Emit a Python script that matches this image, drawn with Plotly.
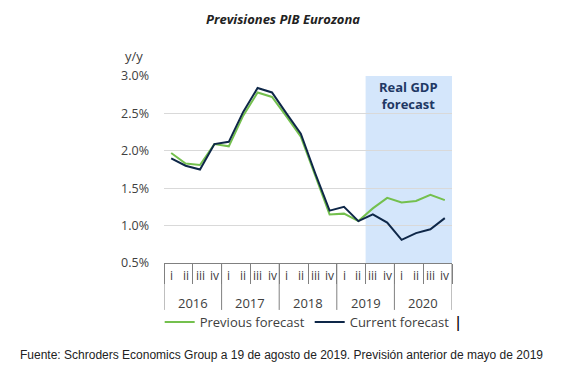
import plotly.graph_objects as go

years = ["2016", "2017", "2018", "2019", "2020"]
quarters = ["i", "ii", "iii", "iv"]
previous = [1.97, 1.83, 1.81, 2.09, 2.06, 2.47, 2.78, 2.72, 2.46, 2.19, 1.67, 1.15,
            1.16, 1.06, 1.23, 1.37, 1.31, 1.33, 1.41, 1.34]
current = [1.90, 1.80, 1.75, 2.09, 2.12, 2.52, 2.84, 2.78, 2.50, 2.23, 1.70, 1.20,
           1.25, 1.06, 1.15, 1.04, 0.81, 0.90, 0.95, 1.10]
y_ticks = [0.5, 1.0, 1.5, 2.0, 2.5, 3.0]
forecast_start = "2019 iii"

cats = [f"{y} {q}" for y in years for q in quarters]
fs_idx = cats.index(forecast_start)
n = len(cats)
nq = len(quarters)

TXT = "#404040"
AX = "#808080"
FONT = "Open Sans"

fig = go.Figure()
fig.add_trace(go.Scatter(x=cats, y=previous, mode="lines", name="Previous forecast",
                         line=dict(color="#74C04E", width=2)))
fig.add_trace(go.Scatter(x=cats, y=current, mode="lines", name="Current forecast",
                         line=dict(color="#0E2748", width=2)))

# forecast shading
fig.add_shape(type="rect", xref="x", yref="paper", x0=fs_idx - 0.5, x1=n - 0.5,
              y0=0, y1=1, fillcolor="#D4E6FB", line=dict(width=0), layer="below")

# quarter labels
for c in cats:
    fig.add_annotation(xref="x", yref="paper", x=c, y=-0.068, text=c.split(" ")[1],
                       showarrow=False, xanchor="center", yanchor="middle",
                       font=dict(family=FONT, size=12, color=TXT))
# year labels and dividers
for i, y in enumerate(years):
    fig.add_annotation(xref="x", yref="paper", x=i * nq + (nq - 1) / 2, y=-0.214, text=y,
                       showarrow=False, xanchor="center", yanchor="middle",
                       font=dict(family=FONT, size=13, color=TXT))
for i in range(len(years) + 1):
    fig.add_shape(type="line", xref="x", yref="paper", x0=i * nq - 0.5, x1=i * nq - 0.5,
                  y0=0, y1=-0.251, line=dict(color=AX, width=1))

fig.add_annotation(xref="x", yref="paper", x=(fs_idx - 0.5 + n - 0.5) / 2, y=1.0,
                   text="<b>Real GDP<br>forecast</b>", showarrow=False,
                   yanchor="top", xanchor="center",
                   font=dict(family=FONT, size=13, color="#1F3864"))
fig.add_annotation(xref="paper", yref="paper", x=-0.142, y=1.107, xanchor="left",
                   yanchor="middle", text="y/y", showarrow=False,
                   font=dict(family=FONT, size=13, color=TXT))
fig.add_annotation(xref="paper", yref="paper", x=0.413, y=1.304, xanchor="center", yanchor="middle",
                   text="<b><i>Previsiones PIB Eurozona</i></b>",
                   showarrow=False, font=dict(family=FONT, size=13, color="#222222"))
fig.add_annotation(xref="paper", yref="paper", x=0.408, y=-0.492, xanchor="center", yanchor="middle",
                   text="Fuente: Schroders Economics Group a 19 de agosto de 2019. Previsión anterior de mayo de 2019",
                   showarrow=False, font=dict(family="Liberation Sans", size=12, color="#222222"))
fig.add_annotation(xref="paper", yref="paper", x=1.021, y=-0.32, xanchor="center", yanchor="middle",
                   text="|", showarrow=False, font=dict(family="Liberation Sans", size=16, color="#000000"))

fig.update_layout(
    width=562, height=372,
    margin=dict(l=156, r=118, t=68, b=117, autoexpand=False),
    paper_bgcolor="white", plot_bgcolor="white",
    showlegend=True,
    legend=dict(orientation="h", x=-0.015, y=-0.235, xanchor="left", yanchor="top",
                font=dict(family=FONT, size=13, color=TXT), bgcolor="rgba(0,0,0,0)",
                tracegroupgap=0),
    font=dict(family=FONT, size=13, color=TXT),
)
fig.update_yaxes(range=[0.5, 3.0], tickvals=y_ticks,
                 ticktext=[f"{v:.1f}%" for v in y_ticks], automargin=False,
                 ticklabelstandoff=14,
                 showgrid=True, gridcolor="#D9D9D9", gridwidth=1, zeroline=False,
                 showline=False, ticks="", tickfont=dict(family=FONT, size=12.5, color=TXT))
fig.update_xaxes(type="category", range=[-0.5, n - 0.5], showline=True, linecolor=AX,
                 linewidth=1, automargin=False, showticklabels=False,
                 ticks="outside", tickson="boundaries", ticklen=20, tickcolor=AX,
                 showgrid=False)

fig.write_html("out.html")
